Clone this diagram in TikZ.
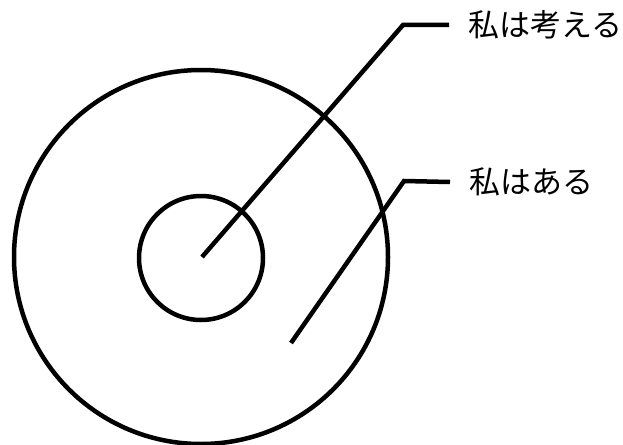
\documentclass[tikz,border=0pt]{standalone}
\usepackage{fontspec}
\setmainfont{Noto Sans CJK JP}
\usetikzlibrary{positioning}
\tikzset{
  ring/.style={draw=black, circle, line width=4.5pt, inner sep=0pt},
  leader/.style={draw=black, line width=4.5pt, line cap=butt},
  caption/.style={anchor=west, inner sep=0pt, font=\fontsize{31}{31}\selectfont},
}

\begin{document}
\begin{tikzpicture}[x=1pt, y=-1pt]
  \useasboundingbox (0,0) rectangle (623,444);
  \node[ring, minimum size=374pt] (outer) at (201,257) {};
  \node[ring, minimum size=124pt] (inner) at (201,258) {};
  \coordinate (thinkfoot) at (202,257);
  \coordinate (thinkbend) at (403,25);
  \coordinate (beingfoot) at (291,343);
  \coordinate (beingbend) at (404,181);
  \node[caption] (think) at (468,25) {私は考える};
  \node[caption] (being) at (469,182) {私はある};
  \draw[leader] (thinkfoot) -- (thinkbend) -- ([xshift=-19pt]think.west);
  \draw[leader] (beingfoot) -- (beingbend) -- ([xshift=-19pt]being.west);
\end{tikzpicture}
\end{document}
